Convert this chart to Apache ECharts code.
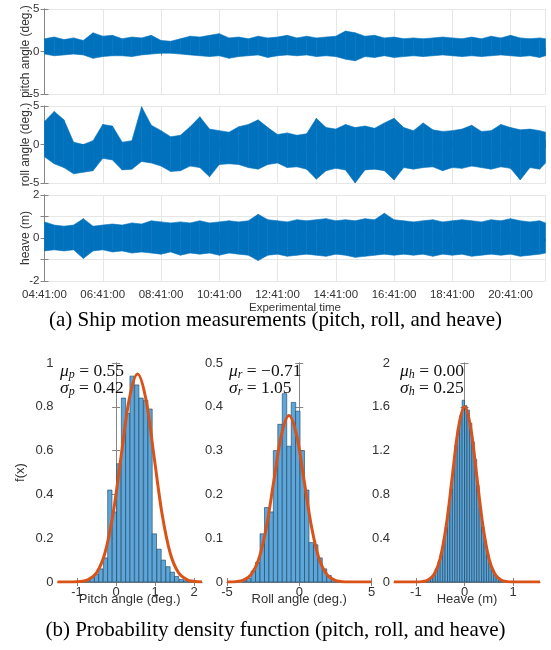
<!DOCTYPE html>
<html>
<head>
<meta charset="utf-8">
<script src="https://cdn.jsdelivr.net/npm/echarts@6/dist/echarts.min.js"></script>
<style>
  html, body { margin: 0; padding: 0; background: #fff; }
  #chart { width: 551px; height: 650px; }
</style>
</head>
<body>
<div id="chart"></div>
<script>
// time samples, minutes after 04:41:00
const timeMin = [0, 20, 40, 60, 80, 100, 120, 140, 160, 180, 200, 220, 240, 260, 280, 300, 320, 340, 360, 380,
  400, 420, 440, 460, 480, 500, 520, 540, 560, 580, 600, 620, 640, 660, 680, 700, 720, 740, 760, 780,
  800, 820, 840, 860, 880, 900, 920, 940, 960, 980, 1000, 1020, 1032];

// envelope (max / min) of each record
const pitchHigh = [1.5, 1.7, 1.4, 1.6, 1.3, 2.2, 1.8, 1.9, 1.5, 1.7, 1.6, 1.9, 1.3, 1.2, 1.5, 1.8, 1.7, 1.9, 2.1, 1.6,
  1.7, 1.5, 1.8, 1.6, 1.7, 1.9, 1.6, 1.8, 1.6, 1.7, 1.8, 2.4, 2.2, 1.8, 1.9, 1.6, 1.7, 1.5, 1.6, 1.5,
  1.6, 1.7, 1.6, 1.5, 1.7, 1.5, 1.8, 1.6, 1.9, 1.6, 1.5, 1.6, 1.5];
const pitchLow = [-0.3, -0.5, -0.4, -0.3, -0.4, -0.8, -0.6, -0.5, -0.5, -0.6, -0.4, -0.3, -0.2, -0.2, -0.3, -0.4, -0.5, -0.6, -0.5, -0.8,
  -0.6, -0.5, -0.4, -0.7, -0.5, -0.4, -0.5, -0.4, -0.6, -0.5, -0.6, -0.9, -1.1, -0.6, -0.7, -0.5, -0.7, -0.6, -0.5, -0.6,
  -0.5, -0.4, -0.5, -0.6, -0.5, -0.6, -0.5, -0.4, -0.5, -0.6, -0.5, -0.7, -0.5];

const rollHigh = [3.0, 4.3, 3.2, 0.3, 0.0, 0.5, 2.6, 2.4, 0.3, 0.5, 4.9, 2.5, 1.8, 1.0, 1.2, 2.3, 3.6, 2.0, 1.8, 1.6,
  2.3, 2.6, 3.2, 2.2, 1.3, 1.5, 1.2, 1.4, 3.4, 2.2, 2.0, 2.6, 2.2, 2.4, 2.1, 2.8, 3.4, 2.2, 1.8, 2.8,
  1.9, 1.7, 1.8, 2.0, 2.5, 1.7, 1.8, 2.6, 2.2, 1.9, 2.0, 1.8, 1.6];
const rollLow = [-1.6, -2.5, -3.0, -3.8, -3.6, -3.4, -1.8, -2.0, -3.3, -3.2, -2.2, -2.4, -2.8, -3.5, -3.4, -2.8, -3.0, -4.2, -2.6, -2.5,
  -2.6, -3.0, -3.2, -2.6, -2.4, -3.0, -2.9, -3.2, -4.5, -3.4, -3.1, -3.3, -5.0, -3.3, -3.2, -3.4, -4.6, -3.0, -3.2, -3.0,
  -2.9, -3.4, -3.0, -3.1, -2.8, -3.0, -3.2, -2.9, -3.1, -4.6, -3.0, -3.2, -2.4];

const heaveHigh = [0.75, 0.6, 0.55, 0.6, 0.9, 0.55, 0.6, 0.65, 0.6, 0.7, 0.65, 0.8, 0.75, 0.7, 0.75, 0.7, 0.8, 0.7, 0.75, 0.8,
  0.75, 0.8, 1.1, 0.85, 0.8, 0.75, 0.85, 0.8, 0.85, 0.9, 0.8, 0.85, 0.8, 0.9, 0.85, 1.15, 0.85, 0.8, 0.75, 0.8,
  0.85, 0.75, 0.8, 0.85, 0.8, 0.75, 0.85, 0.8, 0.9, 0.8, 0.75, 0.8, 0.7];
const heaveLow = [-0.6, -0.55, -0.6, -0.55, -0.95, -0.6, -0.55, -0.65, -0.6, -0.7, -0.65, -0.7, -0.75, -0.65, -0.8, -0.7, -0.75, -0.7, -0.8, -0.7,
  -0.75, -0.8, -1.05, -0.8, -0.75, -0.85, -0.8, -0.75, -0.8, -0.85, -0.75, -0.8, -0.9, -0.85, -0.8, -0.75, -0.8, -0.75, -0.8, -0.75,
  -0.85, -0.75, -0.8, -0.75, -0.85, -0.8, -0.75, -0.8, -0.75, -0.85, -0.8, -0.75, -0.7];

// histograms: bin centres and densities
const pitchBins = [-0.84, -0.73, -0.61, -0.50, -0.39, -0.27, -0.16, -0.04, 0.07, 0.19, 0.30, 0.41, 0.53, 0.64, 0.76, 0.87,
  0.98, 1.10, 1.21, 1.33, 1.44, 1.55, 1.67, 1.78, 1.90];
const pitchDensity = [0.005, 0.01, 0.02, 0.035, 0.06, 0.11, 0.42, 0.32, 0.54, 0.84, 0.77, 0.94, 0.90, 0.84, 0.83, 0.79,
  0.22, 0.15, 0.10, 0.07, 0.045, 0.025, 0.012, 0.006, 0.003];
const rollBins = [-3.79, -3.48, -3.18, -2.87, -2.56, -2.25, -1.94, -1.64, -1.33, -1.02, -0.71, -0.40, -0.10, 0.21, 0.52,
  0.83, 1.14, 1.44, 1.75, 2.06, 2.37, 2.67];
const rollDensity = [0.003, 0.008, 0.025, 0.045, 0.11, 0.17, 0.16, 0.30, 0.36, 0.43, 0.31, 0.41, 0.39, 0.30, 0.21,
  0.09, 0.085, 0.055, 0.03, 0.015, 0.006, 0.003];
const heaveBins = [-0.775, -0.725, -0.675, -0.625, -0.575, -0.525, -0.475, -0.425, -0.375, -0.325, -0.275, -0.225, -0.175, -0.125, -0.075, -0.025,
  0.025, 0.075, 0.125, 0.175, 0.225, 0.275, 0.325, 0.375, 0.425, 0.475, 0.525, 0.575, 0.625, 0.675, 0.725, 0.775];
const heaveDensity = [0.01, 0.02, 0.04, 0.07, 0.12, 0.18, 0.26, 0.37, 0.50, 0.68, 0.85, 1.05, 1.25, 1.40, 1.52, 1.66,
  1.61, 1.57, 1.45, 1.28, 1.12, 0.88, 0.68, 0.50, 0.36, 0.25, 0.17, 0.11, 0.07, 0.04, 0.02, 0.01];

// fitted normal curves
const pitchCurveX = [-1.5, -1.13, -0.92, -0.71, -0.50, -0.29, -0.08, 0.13, 0.34, 0.55, 0.76, 0.97, 1.18, 1.39, 1.60, 1.81, 2.02, 2.2];
const pitchCurveY = [0, 0.0003, 0.002, 0.011, 0.042, 0.129, 0.308, 0.576, 0.838, 0.95, 0.838, 0.576, 0.308, 0.129, 0.042, 0.011, 0.002, 0];
const rollCurveX = [-5, -4.91, -4.385, -3.86, -3.335, -2.81, -2.285, -1.76, -1.235, -0.71, -0.185, 0.34, 0.865, 1.39, 1.915, 2.44, 2.965, 3.49, 5];
const rollCurveY = [0, 0, 0.0008, 0.0042, 0.0167, 0.0514, 0.1234, 0.2305, 0.3353, 0.38, 0.3353, 0.2305, 0.1234, 0.0514, 0.0167, 0.0042, 0.0008, 0, 0];
const heaveCurveX = [-1.45, -1.0, -0.875, -0.75, -0.625, -0.5, -0.375, -0.25, -0.125, 0, 0.125, 0.25, 0.375, 0.5, 0.625, 0.75, 0.875, 1.0, 1.55];
const heaveCurveY = [0, 0.0005, 0.0035, 0.018, 0.070, 0.216, 0.520, 0.970, 1.412, 1.6, 1.412, 0.970, 0.520, 0.216, 0.070, 0.018, 0.0035, 0.0005, 0];

const BLUE = "#0072BD";
const BAR = "#5ca6da";
const ORANGE = "#D95319";
const AXIS = "#858585";
const LABEL = "#333";
const SANS = "Liberation Sans, Arial, sans-serif";
const SERIF = "Liberation Serif, Times New Roman, serif";

const chart = echarts.init(document.getElementById("chart"));

const grids = [
  { left: 44.5, top: 9, width: 501, height: 85 },
  { left: 44.5, top: 106, width: 501, height: 77 },
  { left: 44.5, top: 195, width: 501, height: 86 },
  { left: 57.5, top: 363, width: 144.5, height: 219 },
  { left: 227, top: 363, width: 144.5, height: 219 },
  { left: 394, top: 363, width: 146, height: 219 },
].map(g => Object.assign({ outerBoundsMode: "none", containLabel: false }, g));

function clock(m) {
  const t = 4 * 60 + 41 + m;
  const h = Math.floor(t / 60) % 24, mm = t % 60;
  return String(h).padStart(2, "0") + ":" + String(mm).padStart(2, "0") + ":00";
}

const line = { lineStyle: { color: AXIS, width: 1 } };
const tick = { inside: true, length: 4, lineStyle: { color: AXIS } };
const nameFont = { color: LABEL, fontFamily: SANS, fontSize: 12 };

// x axes
const xAxes = [];
const yAxes = [];
[0, 1, 2].forEach(i => {
  xAxes.push({
    gridIndex: i, type: "value", min: 0, max: 1032, interval: 120,
    axisLine: line, axisTick: tick,
    splitLine: { show: true, lineStyle: { color: "#e6e6e6" } },
    axisLabel: i === 2
      ? { color: LABEL, fontFamily: SANS, fontSize: 11.5, margin: 8, formatter: clock }
      : { show: false },
    name: i === 2 ? "Experimental time" : "",
    nameLocation: "middle", nameGap: 21, nameMoveOverlap: false,
    nameTextStyle: { color: LABEL, fontFamily: SANS, fontSize: 11.5 },
  });
});
const histX = [
  { min: -1.5, max: 2.2, ticks: [-1, 0, 1, 2], name: "Pitch angle (deg.)" },
  { min: -5, max: 5, ticks: [-5, 0, 5], name: "Roll angle (deg.)" },
  { min: -1.45, max: 1.55, ticks: [-1, 0, 1], name: "Heave (m)" },
];
histX.forEach((h, k) => {
  xAxes.push({
    gridIndex: 3 + k, type: "value", min: h.min, max: h.max,
    axisLine: line,
    axisTick: Object.assign({ customValues: h.ticks }, tick),
    axisLabel: { customValues: h.ticks, color: LABEL, fontFamily: SANS, fontSize: 13, margin: 4 },
    splitLine: { show: false },
    name: h.name, nameLocation: "middle", nameGap: 11, nameMoveOverlap: false,
    nameTextStyle: { color: LABEL, fontFamily: SANS, fontSize: 13 },
  });
});

// y axes
const tsY = [
  { min: -5, max: 5, interval: 5, name: "pitch angle (deg.)" },
  { min: -5, max: 5, interval: 5, name: "roll angle (deg.)" },
  { min: -2, max: 2, interval: 1, name: "heave (m)" },
];
tsY.forEach((a, i) => {
  yAxes.push({
    gridIndex: i, type: "value", min: a.min, max: a.max, interval: a.interval,
    axisLine: line, axisTick: tick,
    splitLine: { show: true, lineStyle: { color: "#e6e6e6" } },
    axisLabel: {
      color: LABEL, fontFamily: SANS, fontSize: 11.5, margin: 5,
      formatter: v => (a.interval === 1 && v % 2 !== 0) ? "" : String(v),
    },
    name: a.name, nameLocation: "middle", nameGap: 13, nameMoveOverlap: false,
    nameTextStyle: nameFont,
  });
});
const histY = [
  { max: 1, interval: 0.2, name: "f(x)", gap: 31 },
  { max: 0.5, interval: 0.1, name: "", gap: 0 },
  { max: 2, interval: 0.4, name: "", gap: 0 },
];
histY.forEach((a, k) => {
  yAxes.push({
    gridIndex: 3 + k, type: "value", min: 0, max: a.max, interval: a.interval,
    axisLine: line, axisTick: tick, splitLine: { show: false },
    axisLabel: { color: LABEL, fontFamily: SANS, fontSize: 13, margin: 4 },
    name: a.name, nameLocation: "middle", nameGap: a.gap, nameMoveOverlap: false,
    nameTextStyle: { color: LABEL, fontFamily: SANS, fontSize: 13 },
  });
});

// mirrored box axes (top / right)
for (let i = 0; i < 6; i++) {
  const bx = xAxes[i], by = yAxes[i];
  xAxes.push({
    gridIndex: i, type: "value", position: "top", min: bx.min, max: bx.max, interval: bx.interval,
    axisLine: line, axisTick: Object.assign({}, bx.axisTick), axisLabel: { show: false }, splitLine: { show: false },
  });
  yAxes.push({
    gridIndex: i, type: "value", position: "right", min: by.min, max: by.max, interval: by.interval,
    axisLine: line, axisTick: tick, axisLabel: { show: false }, splitLine: { show: false },
  });
}

const series = [];

// filled envelope between low and high traces, one quad per sample step
function band(i, low, high) {
  const data = [];
  for (let k = 0; k < timeMin.length - 1; k++) {
    data.push([timeMin[k], low[k], high[k], timeMin[k + 1], low[k + 1], high[k + 1]]);
  }
  series.push({
    type: "custom", xAxisIndex: i, yAxisIndex: i, silent: true, clip: true,
    data,
    encode: { x: [0, 3], y: [1, 2, 4, 5] },
    renderItem: (params, api) => {
      const p = [
        api.coord([api.value(0), api.value(1)]),
        api.coord([api.value(0), api.value(2)]),
        api.coord([api.value(3), api.value(5)]),
        api.coord([api.value(3), api.value(4)]),
      ];
      return {
        type: "polygon",
        shape: { points: p },
        style: { fill: BLUE, stroke: BLUE, lineWidth: 0.6 },
      };
    },
  });
}
band(0, pitchLow, pitchHigh);
band(1, rollLow, rollHigh);
band(2, heaveLow, heaveHigh);

function hist(i, centers, dens) {
  const w = centers[1] - centers[0];
  series.push({
    type: "custom", xAxisIndex: i, yAxisIndex: i, silent: true,
    data: centers.map((c, k) => [c, dens[k]]),
    encode: { x: 0, y: 1 },
    renderItem: (params, api) => {
      const x = api.value(0), y = api.value(1);
      const a = api.coord([x - w / 2, y]);
      const b = api.coord([x + w / 2, 0]);
      return {
        type: "rect",
        shape: { x: a[0], y: a[1], width: b[0] - a[0], height: b[1] - a[1] },
        style: { fill: BAR, stroke: "#1d3f5c", lineWidth: 0.6 },
      };
    },
  });
}
function curve(i, xs, ys) {
  series.push({
    type: "line", xAxisIndex: i, yAxisIndex: i, silent: true,
    data: xs.map((x, k) => [x, ys[k]]),
    symbol: "none", smooth: 0.35, z: 5,
    lineStyle: { color: ORANGE, width: 3 },
  });
}
hist(3, pitchBins, pitchDensity);
curve(3, pitchCurveX, pitchCurveY);
hist(4, rollBins, rollDensity);
curve(4, rollCurveX, rollCurveY);
hist(5, heaveBins, heaveDensity);
curve(5, heaveCurveX, heaveCurveY);

function stat(x, y, sym, sub, val) {
  return {
    type: "text", left: x, top: y, z: 10,
    style: {
      text: "{g|" + sym + "}{s|" + sub + "}{n| = " + val + "}",
      rich: {
        g: { fontFamily: SERIF, fontStyle: "italic", fontSize: 17.5, fill: "#111", lineHeight: 19 },
        s: { fontFamily: SERIF, fontStyle: "italic", fontSize: 12, fill: "#111", padding: [7, 0, 0, 0], lineHeight: 19 },
        n: { fontFamily: SERIF, fontSize: 17.5, fill: "#111", lineHeight: 19 },
      },
    },
  };
}

const graphic = [
  stat(60, 362, "μ", "p", "0.55"),
  stat(60, 379, "σ", "p", "0.42"),
  stat(229, 362, "μ", "r", "\u22120.71"),
  stat(229, 379, "σ", "r", "1.05"),
  stat(400, 362, "μ", "h", "0.00"),
  stat(400, 379, "σ", "h", "0.25"),
  {
    type: "text", left: "center", top: 310,
    style: { text: "(a) Ship motion measurements (pitch, roll, and heave)", font: "21px " + SERIF, fill: "#000" },
  },
  {
    type: "text", left: "center", top: 620,
    style: { text: "(b) Probability density function (pitch, roll, and heave)", font: "21px " + SERIF, fill: "#000" },
  },
];

chart.setOption({
  animation: false,
  grid: grids,
  xAxis: xAxes,
  yAxis: yAxes,
  series: series,
  graphic: graphic,
});
</script>
</body>
</html>
